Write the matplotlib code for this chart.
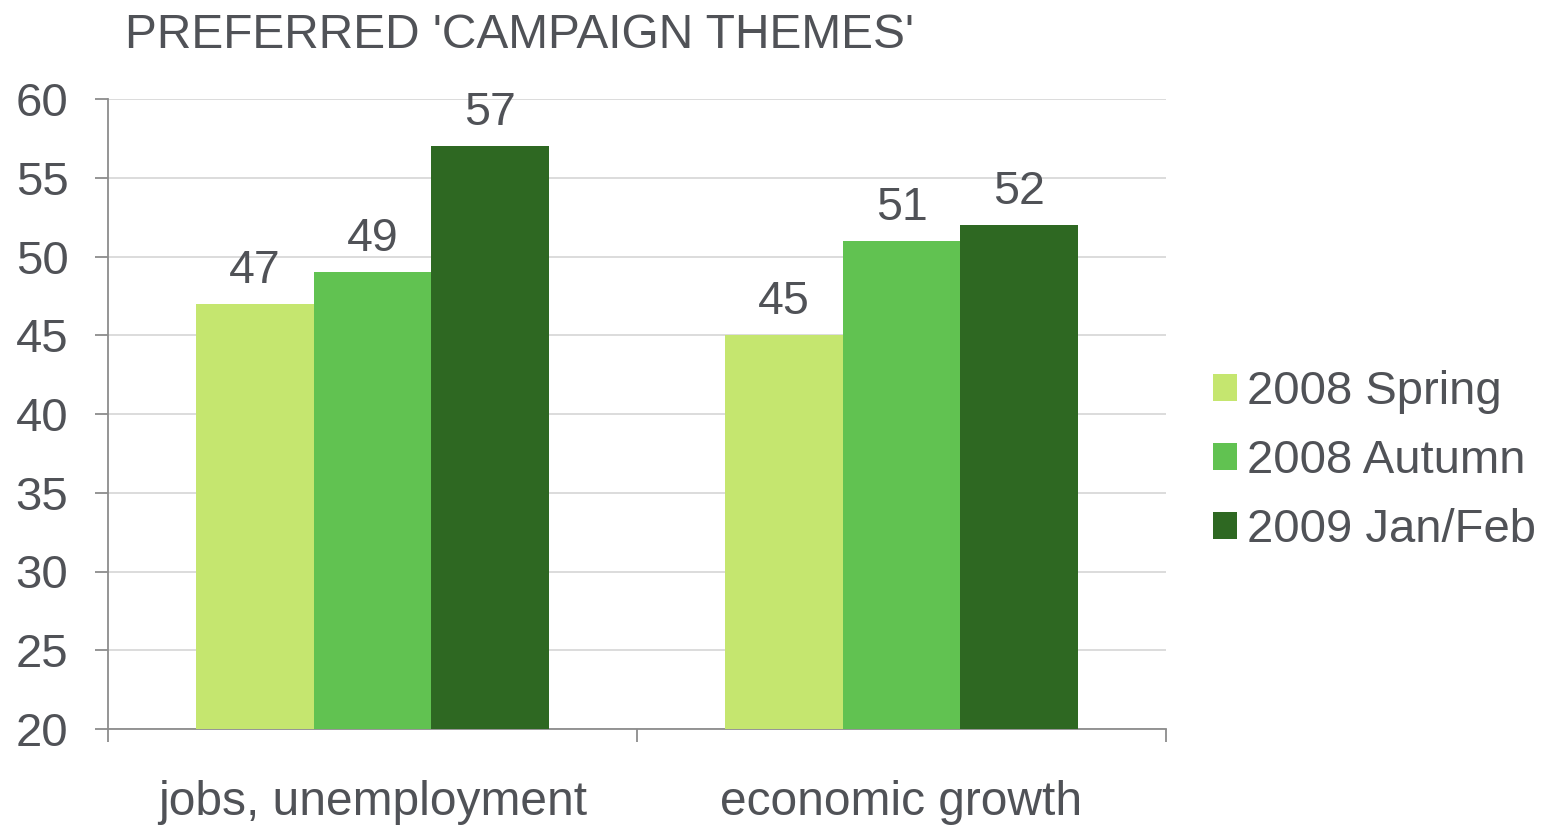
import matplotlib.pyplot as plt
import numpy as np
from matplotlib.patches import Patch

categories = ['jobs, unemployment', 'economic growth']
series_names = ['2008 Spring', '2008 Autumn', '2009 Jan/Feb']
spring_2008 = [47, 45]
autumn_2008 = [49, 51]
janfeb_2009 = [57, 52]
yticks = [20, 25, 30, 35, 40, 45, 50, 55, 60]

colors = ['#C5E66F', '#61C251', '#2E6822']
text_col = '#505257'
axis_col = '#8C8C8C'
grid_col = '#D9D9D9'

plt.rcParams['font.family'] = ['Liberation Sans', 'DejaVu Sans']

fig = plt.figure(figsize=(15.5, 8.25), dpi=100)
ax = fig.add_axes([108 / 1550, 96 / 825, (1166 - 108) / 1550, (729 - 99) / 825])

x = np.arange(len(categories))
w = 0.222
all_series = [spring_2008, autumn_2008, janfeb_2009]
for i, vals in enumerate(all_series):
    xs = x + (i - 1) * w
    ax.bar(xs, [v - 20 for v in vals], bottom=20, width=w, color=colors[i], zorder=3)
    for xi, v in zip(xs, vals):
        ax.annotate(str(v), (xi, v), xytext=(0, 15), textcoords='offset points',
                    ha='center', va='baseline', fontsize=33.5, color=text_col)

ax.set_xlim(-0.5, 1.5)
ax.set_ylim(20, 60)
ax.set_yticks(yticks)
ax.set_yticklabels([str(t) for t in yticks])
ax.yaxis.grid(True, color=grid_col, linewidth=1.3, zorder=0)

ax.set_xticks(x)
ax.set_xticklabels(categories)
ax.set_xticks([-0.5, 0.5, 1.5], minor=True)
ax.tick_params(axis='x', which='major', length=0, pad=37, labelsize=34.5, labelcolor=text_col)
ax.tick_params(axis='x', which='minor', length=9.5, width=1.3, color=axis_col)
ax.tick_params(axis='y', length=9.5, width=1.3, color=axis_col, pad=19,
               labelsize=34, labelcolor=text_col)

for s in ['top', 'right']:
    ax.spines[s].set_visible(False)
for s in ['left', 'bottom']:
    ax.spines[s].set_color(axis_col)
    ax.spines[s].set_linewidth(1.3)

fig.text(125 / 1550, (825 - 48) / 825, "PREFERRED 'CAMPAIGN THEMES'",
         fontsize=34.5, color=text_col, ha='left', va='baseline')

handles = [Patch(facecolor=c, edgecolor='none') for c in colors]
fig.legend(handles, series_names, loc='center left',
           bbox_to_anchor=(1213 / 1550, (825 - 461) / 825),
           frameon=False, fontsize=34, labelcolor=text_col,
           handlelength=0.5, handleheight=0.5, handletextpad=0.23,
           labelspacing=0.53, borderpad=0, borderaxespad=0)

fig.savefig('out.png', dpi=100)
